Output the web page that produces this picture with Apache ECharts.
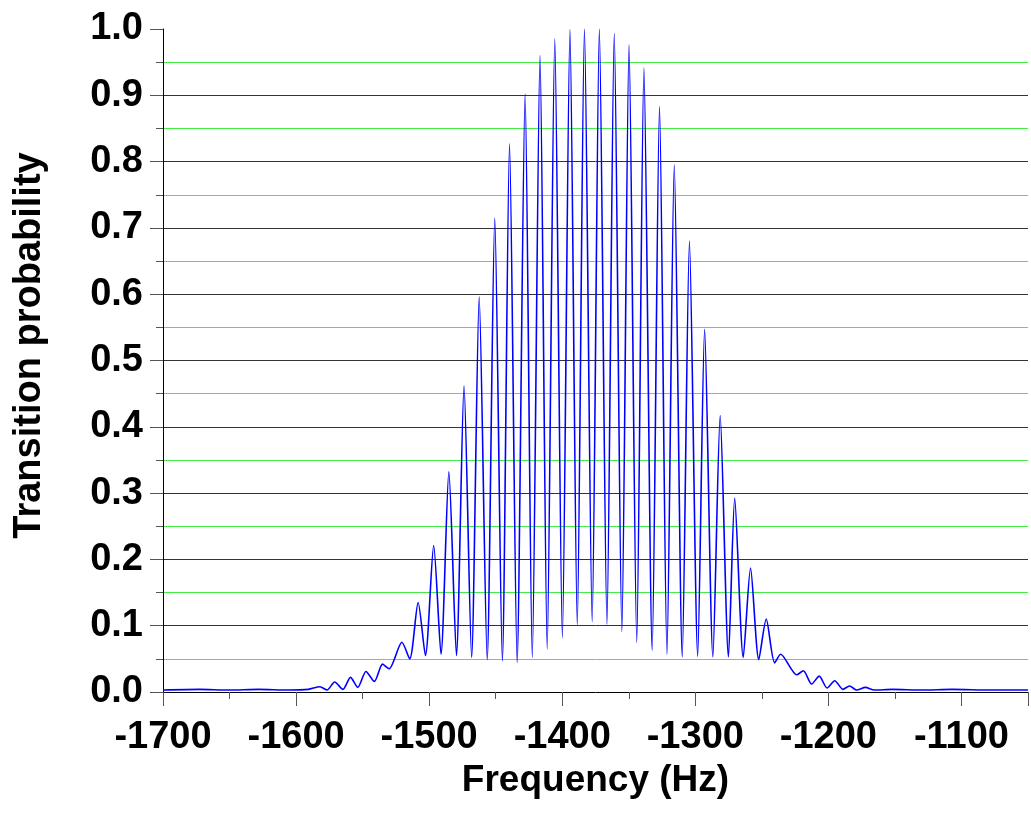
<!DOCTYPE html>
<html>
<head>
<meta charset="utf-8">
<script src="https://cdn.jsdelivr.net/npm/echarts@6/dist/echarts.min.js"></script>
<style>
  html, body { margin: 0; padding: 0; background: #fff; }
  #main { width: 1031px; height: 821px; }
</style>
</head>
<body>
<div id="main"></div>
<script>
// frequency (Hz) of each read point: peaks and troughs of the fringe pattern
const freq = [
  -1700, -1672.7, -1650.4, -1628, -1605.7, -1590.8,
  -1582.1, -1576.7, -1571.0, -1564.8, -1559.1, -1553.6, -1547.5, -1541.2,
  -1535.0, -1530.1, -1520.5, -1514.6, -1508.3, -1502.8, -1496.6, -1491.1,
  -1485.2, -1479.5, -1473.8, -1468.1, -1462.4, -1456.4, -1450.7, -1445.0,
  -1439.6, -1433.9, -1427.9, -1422.5, -1416.7, -1411.3, -1405.6, -1399.9,
  -1394.2, -1388.7, -1383.3, -1377.5, -1372.1, -1366.4, -1360.9, -1355.2,
  -1349.8, -1344.0, -1338.6, -1332.4, -1326.9, -1321.3, -1315.8, -1309.8,
  -1304.4, -1298.2, -1293.0, -1286.8, -1281.3, -1275.1, -1270.4, -1264.0,
  -1258.5, -1252.3, -1246.7, -1240.4, -1235.9, -1223.8, -1218.8, -1212.6,
  -1206.9, -1201.0, -1195.2, -1189.1, -1184.1, -1178.7, -1172.2, -1165.5,
  -1151.9, -1129.5, -1107.2, -1077.5, -1050
];
// transition probability at those points
const prob = [
  0.003, 0.004, 0.003, 0.004, 0.003, 0.004,
  0.008, 0.003, 0.015, 0.004, 0.022, 0.007, 0.031, 0.016,
  0.042, 0.035, 0.075, 0.050, 0.135, 0.055, 0.221, 0.057,
  0.332, 0.055, 0.462, 0.052, 0.596, 0.049, 0.715, 0.047,
  0.827, 0.045, 0.902, 0.052, 0.960, 0.065, 0.985, 0.082,
  0.999, 0.101, 1.000, 0.106, 1.000, 0.102, 0.993, 0.091,
  0.976, 0.075, 0.941, 0.063, 0.883, 0.057, 0.795, 0.053,
  0.680, 0.054, 0.547, 0.053, 0.417, 0.053, 0.292, 0.052,
  0.187, 0.049, 0.110, 0.044, 0.057, 0.026, 0.032, 0.012,
  0.024, 0.006, 0.017, 0.004, 0.009, 0.003, 0.007, 0.003,
  0.004, 0.003, 0.004, 0.003, 0.003
];

const font = "'Liberation Sans', Arial, sans-serif";

window.addEventListener('load', function () {
    let chart = echarts.init(document.getElementById('main'));
    let points = freq.map((f, i) => [f, prob[i]]);

    let option = {
        backgroundColor: '#fff',
        animation: false,
        grid: { left: 163, top: 29, width: 874, height: 663 },
        xAxis: {
            type: 'value',
            min: -1700,
            max: -1050,
            interval: 100,
            name: 'Frequency (Hz)',
            nameLocation: 'middle',
            nameGap: 60,
            nameTextStyle: { fontFamily: font, fontWeight: 'bold', fontSize: 37, color: '#000' },
            axisLine: { lineStyle: { color: '#000', width: 1 } },
            axisTick: { inside: false, length: 14, lineStyle: { color: '#555' } },
            minorTick: { show: true, splitNumber: 2, length: 7, lineStyle: { color: '#555' } },
            splitLine: { show: false },
            axisLabel: {
                margin: 27,
                fontFamily: font, fontWeight: 'bold', fontSize: 38, color: '#000',
                formatter: v => (v <= -1100 ? String(v) : '')
            }
        },
        yAxis: {
            type: 'value',
            min: 0,
            max: 1,
            interval: 0.1,
            name: 'Transition probability',
            nameLocation: 'middle',
            nameGap: 114,
            nameTextStyle: {
                fontFamily: font, fontWeight: 'bold', fontSize: 38, color: '#000',
                padding: [0, 0, 0, 30]
            },
            axisLine: { show: true, lineStyle: { color: '#000', width: 1 } },
            axisTick: { show: true, inside: false, length: 13, lineStyle: { color: '#555' } },
            minorTick: { show: true, splitNumber: 2, length: 7, lineStyle: { color: '#555' } },
            splitLine: { show: true, showMinLine: false, showMaxLine: false, lineStyle: { color: '#333', width: 1 } },
            minorSplitLine: { show: true, lineStyle: { color: '#44ee44', width: 1 } },
            axisLabel: {
                margin: 20,
                fontFamily: font, fontWeight: 'bold', fontSize: 38, color: '#000',
                formatter: v => v.toFixed(1)
            }
        },
        series: [{
            type: 'line',
            data: points,
            showSymbol: false,
            smooth: 0.25,
            lineStyle: { color: '#0000ff', width: 1.6 }
        }]
    };
    chart.setOption(option);
});
</script>
</body>
</html>
